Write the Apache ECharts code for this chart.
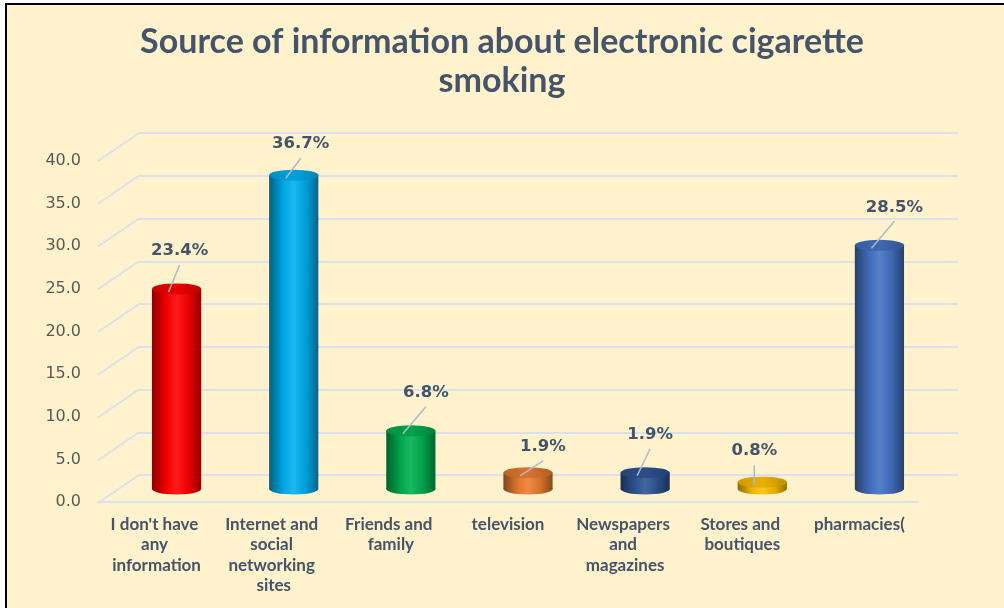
<!DOCTYPE html>
<html>
<head>
<meta charset="utf-8">
<script src="https://cdn.jsdelivr.net/npm/echarts@6/dist/echarts.min.js"></script>
<style>
  html, body { margin: 0; padding: 0; width: 1004px; height: 608px; background: #ffffff; overflow: hidden; }
  #frame { position: absolute; left: 5px; top: 3px; width: 999px; height: 605px; border-left: 2px solid #000; border-top: 2px solid #000; background: #FFF2CC; }
  #chart { position: absolute; left: 0; top: 0; width: 1004px; height: 608px; }
</style>
</head>
<body>
<div id="frame"></div>
<div id="chart"></div>
<script>
// ---- data ----
const titleText = 'Source of information about electronic cigarette\nsmoking';
const categories = [
  "I don't have any information",
  "Internet and social networking sites",
  "Friends and family",
  "television",
  "Newspapers and magazines",
  "Stores and boutiques",
  "pharmacies("
];
const values = [23.4, 36.7, 6.8, 1.9, 1.9, 0.8, 28.5];
const yTicks = [0, 5, 10, 15, 20, 25, 30, 35, 40];

// ---- styles ----
const barColors = ['#FF0000', '#00B0F0', '#00B050', '#ED7D31', '#2F5597', '#FFC000', '#4472C4'];
const labelDx = [3, 7, 15, 15, 5, -8, 15];
const labelDy = [-38, -31, -38, -26, -38, -31, -38];
const textColor = '#44546A';
const gridColor = '#D9E1EE';

function shade(hex, f) {
  const n = parseInt(hex.slice(1), 16);
  let r = (n >> 16) & 255, g = (n >> 8) & 255, b = n & 255;
  const t = f < 0 ? 0 : 255, p = Math.abs(f);
  r = Math.round((t - r) * p + r); g = Math.round((t - g) * p + g); b = Math.round((t - b) * p + b);
  return 'rgb(' + r + ',' + g + ',' + b + ')';
}
function bodyGrad(c) {
  return new echarts.graphic.LinearGradient(0, 0, 1, 0, [
    { offset: 0, color: shade(c, -0.45) },
    { offset: 0.3, color: shade(c, -0.05) },
    { offset: 0.5, color: shade(c, 0.1) },
    { offset: 0.75, color: shade(c, -0.1) },
    { offset: 1, color: shade(c, -0.42) }
  ]);
}
function topGrad(c) {
  return new echarts.graphic.LinearGradient(0, 0, 1, 0, [
    { offset: 0, color: shade(c, -0.2) },
    { offset: 0.5, color: shade(c, -0.08) },
    { offset: 1, color: shade(c, -0.25) }
  ]);
}

const chart = echarts.init(document.getElementById('chart'), null, { renderer: 'canvas' });

const yAxisBase = { type: 'value', min: 0, max: 40, interval: 5 };

const option = {
  backgroundColor: 'transparent',
  animation: false,
  title: {
    text: titleText,
    left: 'center',
    top: 18,
    textStyle: { fontFamily: 'Lato', fontWeight: 'bold', fontSize: 34, color: textColor, lineHeight: 39 }
  },
  grid: [
    { left: 139, right: 46, top: 133, bottom: 133 },   // back wall
    { left: 98, right: 86, top: 161, bottom: 106 },    // front
    { left: 118, right: 66, top: 147, bottom: 119 }    // bar plane
  ],
  xAxis: [
    { type: 'category', gridIndex: 0, data: categories, show: false },
    {
      type: 'category', gridIndex: 1, data: categories,
      axisLine: { show: true, lineStyle: { color: gridColor, width: 2 } },
      axisTick: { show: false },
      axisLabel: {
        interval: 0, margin: 12, color: textColor, fontFamily: 'Lato', fontWeight: 'bold',
        fontSize: 17, lineHeight: 20.5, width: 104, overflow: 'break', align: 'center', verticalAlign: 'top'
      }
    },
    { type: 'category', gridIndex: 2, data: categories, show: false }
  ],
  yAxis: [
    Object.assign({}, yAxisBase, {
      gridIndex: 0, axisLabel: { show: false }, axisLine: { show: false }, axisTick: { show: false },
      splitLine: { show: true, lineStyle: { color: gridColor, width: 2 } }
    }),
    Object.assign({}, yAxisBase, {
      gridIndex: 1, axisLine: { show: false }, axisTick: { show: false }, splitLine: { show: false },
      axisLabel: { margin: 17, color: '#595959', fontFamily: 'DejaVu Sans', fontSize: 16, formatter: v => v.toFixed(1) }
    }),
    Object.assign({}, yAxisBase, {
      gridIndex: 2, show: false, splitLine: { show: false }
    })
  ],
  series: [
    {
      // side-wall diagonals connecting front ticks to back wall lines
      type: 'custom',
      xAxisIndex: 0, yAxisIndex: 0,
      silent: true,
      data: yTicks.map(v => [0, v]),
      renderItem: function (params, api) {
        const p = api.coord([0, api.value(1)]);
        const x0 = params.coordSys.x;
        return {
          type: 'line',
          shape: { x1: x0 - 41, y1: p[1] + 28, x2: x0, y2: p[1] },
          style: { stroke: gridColor, lineWidth: 2 }
        };
      }
    },
    {
      type: 'custom',
      xAxisIndex: 2, yAxisIndex: 2,
      silent: true,
      data: values.map((v, i) => [i, v]),
      renderItem: function (params, api) {
        const i = params.dataIndex;
        const c = barColors[i];
        const top = api.coord([api.value(0), api.value(1)]);
        const base = api.coord([api.value(0), 0]);
        const w = api.size([1, 0])[0] * 0.42;
        const rx = w / 2, ry = 5.5;
        const cx = top[0];
        const lx = cx + labelDx[i], ly = top[1] + labelDy[i];
        return {
          type: 'group',
          children: [
            { type: 'circle', shape: { cx: 0, cy: 0, r: rx }, x: cx, y: base[1], scaleY: ry / rx, style: { fill: bodyGrad(c) } },
            { type: 'rect', shape: { x: cx - rx, y: top[1], width: w, height: base[1] - top[1] }, style: { fill: bodyGrad(c) } },
            { type: 'circle', shape: { cx: 0, cy: 0, r: rx }, x: cx, y: top[1], scaleY: ry / rx, style: { fill: topGrad(c) } },
            { type: 'line', shape: { x1: cx - 8, y1: top[1] + 3, x2: lx, y2: ly + 14 }, style: { stroke: '#AEB9CA', lineWidth: 1.5 } },
            {
              type: 'text', x: lx, y: ly,
              style: {
                text: values[i].toFixed(1) + '%', fill: textColor,
                font: 'bold 16.5px "DejaVu Sans"', align: 'center', verticalAlign: 'middle'
              }
            }
          ]
        };
      }
    }
  ]
};
chart.setOption(option);
</script>
</body>
</html>
